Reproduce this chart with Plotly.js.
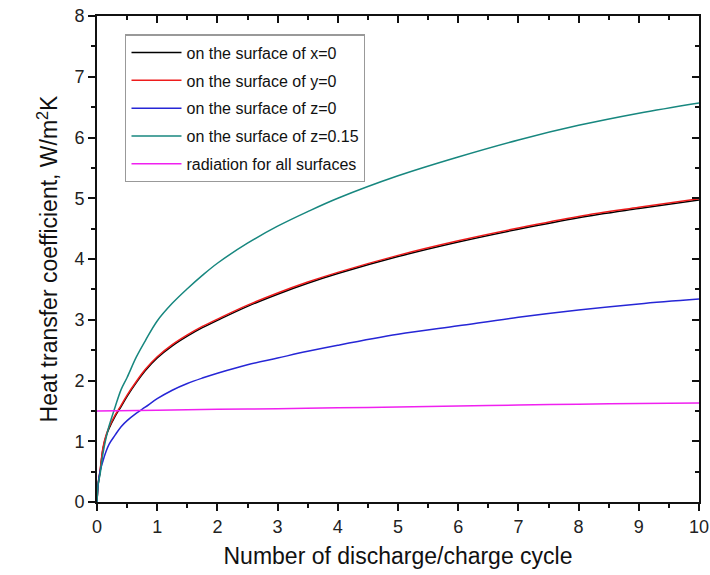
<!DOCTYPE html>
<html>
<head>
<meta charset="utf-8">
<script src="https://cdn.plot.ly/plotly-3.0.1.min.js"></script>
<style>html,body{margin:0;padding:0;background:#fff;}#chart{width:710px;height:575px;}#dbg{position:absolute;left:330px;top:425px;width:360px;font:10px monospace;color:#c00;white-space:pre-wrap;}</style>
</head>
<body>
<div id="chart"></div>
<div id="dbg"></div>
<script>
const logs = [];
window.addEventListener("error", e => logs.push("ERR " + e.message));
window.addEventListener("unhandledrejection", e => logs.push("REJ " + (e.reason && e.reason.message || e.reason)));
const _ce = console.error; console.error = function(){ logs.push("CE " + Array.from(arguments).join(" ").slice(0, 100)); _ce.apply(console, arguments); };

const cycles = [0, 0.02, 0.05, 0.1, 0.15, 0.2, 0.3, 0.4, 0.5, 0.65, 0.8, 1, 1.25, 1.5, 1.75, 2, 2.5, 3, 3.5, 4, 5, 6, 7, 8, 9, 10];
const surfX0 = [0, 0.29, 0.49, 0.88, 1.08, 1.21, 1.41, 1.57, 1.74, 1.96, 2.16, 2.37, 2.57, 2.73, 2.87, 2.99, 3.22, 3.42, 3.60, 3.76, 4.04, 4.28, 4.49, 4.68, 4.83, 4.97];
const surfY0 = [0, 0.31, 0.51, 0.90, 1.10, 1.23, 1.43, 1.59, 1.76, 1.98, 2.18, 2.39, 2.59, 2.75, 2.89, 3.01, 3.24, 3.44, 3.62, 3.78, 4.06, 4.30, 4.51, 4.70, 4.85, 4.99];
const surfZ0 = [0, 0.30, 0.50, 0.68, 0.83, 0.95, 1.10, 1.24, 1.34, 1.46, 1.56, 1.70, 1.84, 1.95, 2.04, 2.12, 2.26, 2.37, 2.48, 2.58, 2.76, 2.90, 3.04, 3.16, 3.26, 3.34];
const surfZ015 = [0, 0.30, 0.45, 0.80, 1.05, 1.25, 1.56, 1.85, 2.05, 2.38, 2.65, 2.98, 3.27, 3.51, 3.73, 3.93, 4.26, 4.54, 4.78, 5.00, 5.37, 5.68, 5.96, 6.20, 6.40, 6.57];
const radCycles = [0, 1, 2, 3, 4, 5, 6, 7, 8, 9, 10];
const radiation = [1.50, 1.51, 1.525, 1.535, 1.55, 1.565, 1.58, 1.595, 1.61, 1.62, 1.63];
const seriesNames = ["on the surface of x=0", "on the surface of y=0", "on the surface of z=0", "on the surface of z=0.15", "radiation for all surfaces"];
const xTitle = "Number of discharge/charge cycle";
const yTitle = "Heat transfer coefficient, W/m<sup>2</sup>K";

const colors = ["#000000", "#ee1c1c", "#2626d6", "#17877f", "#f020f0"];
const xs = [cycles, cycles, cycles, cycles, radCycles];
const ys = [surfX0, surfY0, surfZ0, surfZ015, radiation];
// radiation drawn on the overlaid axes (identical ranges) so the mirrored inward-tick axes exist
const axisPairs = [["x", "y"], ["x", "y"], ["x", "y"], ["x", "y"], ["x2", "y2"]];

const traces = seriesNames.map((n, i) => ({
  type: "scatter", mode: "lines", name: n, x: xs[i], y: ys[i],
  xaxis: axisPairs[i][0], yaxis: axisPairs[i][1],
  line: {color: colors[i], width: 1.5, shape: "spline", smoothing: 1},
  legendgroup: "g" + i, hoverinfo: "skip"
}));

const fam = "Arial, Liberation Sans, sans-serif";
const tickFont = {family: fam, size: 18, color: "#222"};
const minorOut = {dtick: 0.5, ticks: "outside", ticklen: 4, tickwidth: 2, tickcolor: "#111", showgrid: false};
const minorIn = {dtick: 0.5, ticks: "inside", ticklen: 4, tickwidth: 2, tickcolor: "#111", showgrid: false};
const layout = {
  width: 710, height: 575,
  margin: {l: 97, r: 11, t: 16, b: 73},
  paper_bgcolor: "#fff", plot_bgcolor: "#fff",
  showlegend: true,
  legend: {
    x: 0.047, y: 0.962, xanchor: "left", yanchor: "top",
    bgcolor: "rgba(255,255,255,0)", bordercolor: "#999", borderwidth: 1.2,
    font: {family: fam, size: 16, color: "#111"},
    traceorder: "grouped", tracegroupgap: 4, itemwidth: 50
  },
  xaxis: {
    range: [0, 10], dtick: 1, tick0: 0, showgrid: false, zeroline: false,
    showline: true, linecolor: "#111", linewidth: 2,
    ticks: "outside", ticklen: 7, tickwidth: 2, tickcolor: "#111",
    minor: minorOut, tickfont: tickFont,
    title: {text: xTitle, font: {family: fam, size: 23, color: "#111"}, standoff: 12}
  },
  yaxis: {
    range: [0, 8], dtick: 1, tick0: 0, showgrid: false, zeroline: false,
    showline: true, linecolor: "#111", linewidth: 2,
    ticks: "outside", ticklen: 7, tickwidth: 2, tickcolor: "#111",
    minor: minorOut, tickfont: tickFont,
    title: {text: yTitle, font: {family: fam, size: 23, color: "#111"}, standoff: 10}
  },
  xaxis2: {
    overlaying: "x", side: "top", range: [0, 10], dtick: 1, tick0: 0,
    showgrid: false, zeroline: false, showline: true, linecolor: "#111", linewidth: 2,
    ticks: "inside", ticklen: 7, tickwidth: 2, tickcolor: "#111", showticklabels: false,
    minor: minorIn
  },
  yaxis2: {
    overlaying: "y", side: "right", range: [0, 8], dtick: 1, tick0: 0,
    showgrid: false, zeroline: false, showline: true, linecolor: "#111", linewidth: 2,
    ticks: "inside", ticklen: 7, tickwidth: 2, tickcolor: "#111", showticklabels: false,
    minor: minorIn
  }
};

const q = s => document.querySelectorAll(s).length;
const state = () => "xt " + q("path.xtick") + " x2t " + q("path.x2tick") + " yt " + q("path.ytick") + " y2t " + q("path.y2tick") + " sub " + q(".subplot");
const ok = () => q("path.x2tick") > 0 && q("path.xtick") > 11;

Plotly.newPlot("chart", traces, layout, {displayModeBar: false}).then(gd => {
  const s1 = state();
  if (ok()) return;
  return Plotly.react(gd, traces, layout, {displayModeBar: false}).then(() => {
    const s2 = state();
    if (ok()) return;
    document.getElementById("dbg").textContent = "s1 " + s1 + "\ns2 " + s2 + "\nplots " + Object.keys(gd._fullLayout._plots).join(",") + "\n" + logs.join("\n");
  });
}).catch(e => { document.getElementById("dbg").textContent = "catch " + e + "\n" + logs.join("\n"); });
</script>
</body>
</html>
